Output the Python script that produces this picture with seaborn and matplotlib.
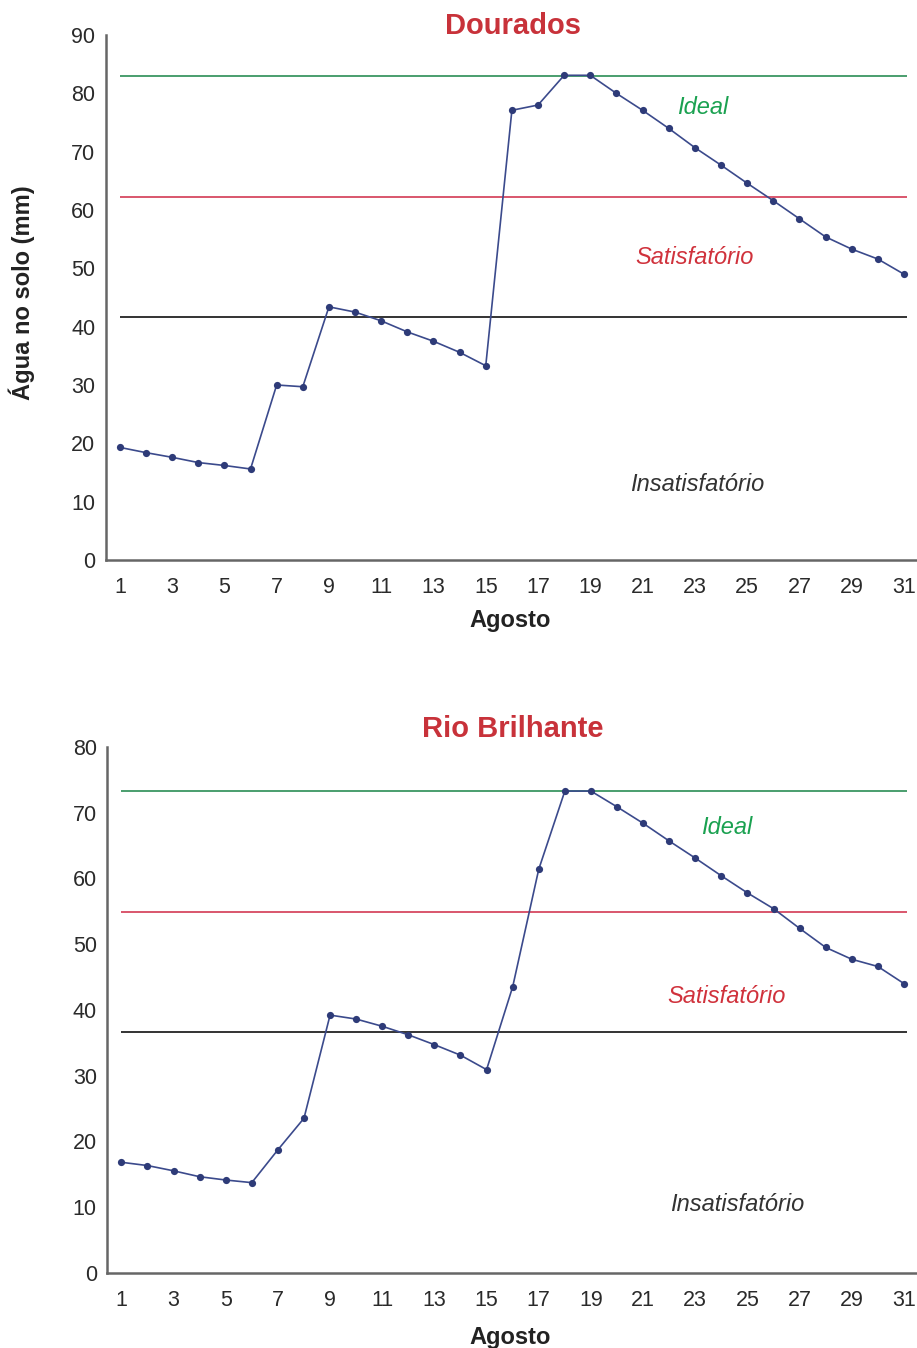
import matplotlib
matplotlib.use("Agg")
import matplotlib.pyplot as plt
import seaborn as sns
import pandas as pd
import numpy as np

# ---------------- data ----------------
days = list(range(1, 32))

dourados = [19.3, 18.4, 17.6, 16.7, 16.2, 15.6, 30.0, 29.7, 43.4, 42.5,
            41.0, 39.1, 37.5, 35.6, 33.3, 77.1, 78.0, 83.1, 83.1, 80.0,
            77.1, 74.0, 70.7, 67.7, 64.6, 61.6, 58.5, 55.4, 53.3, 51.6, 49.0]
dourados_levels = {"ideal": 83.0, "satisf": 62.3, "insat": 41.6}

rio = [16.8, 16.3, 15.5, 14.6, 14.1, 13.7, 18.7, 23.5, 39.2, 38.6,
       37.5, 36.2, 34.7, 33.1, 30.9, 43.5, 61.4, 73.3, 73.3, 70.9,
       68.4, 65.7, 63.1, 60.4, 57.8, 55.4, 52.4, 49.5, 47.7, 46.6, 44.0]
rio_levels = {"ideal": 73.3, "satisf": 54.9, "insat": 36.7}

titles = ["Dourados", "Rio Brilhante"]
xticks = list(range(1, 32, 2))
zone_labels = ["Ideal", "Satisfatório", "Insatisfatório"]

# ---------------- style ----------------
sns.set_theme(style="white")
plt.rcParams["font.family"] = ["Liberation Sans", "DejaVu Sans"]

LINE_C = "#3b4a8c"
GREEN = "#4a9e6e"
RED = "#d9566c"
BLACK = "#333333"
AXIS_C = "#666666"
TITLE_C = "#c8323a"

fig = plt.figure(figsize=(9.17, 13.48), dpi=100)
ax1 = fig.add_axes([0.1153, 0.5846, 0.8847, 0.3894])
ax2 = fig.add_axes([0.117, 0.0559, 0.883, 0.3899])

configs = [
    (ax1, dourados, dourados_levels, 90, range(0, 91, 10),
     [(23.3, 77.5), (23.0, 51.8), (23.1, 13.0)], -0.093, 26),
    (ax2, rio, rio_levels, 80, range(0, 81, 10),
     [(24.2, 67.7), (24.2, 42.1), (24.6, 10.4)], -0.101, 729),
]

for i, (ax, vals, lv, ymax, yt, txtpos, xlab_y, title_y) in enumerate(configs):
    df = pd.DataFrame({"dia": days, "agua": vals})
    ax.hlines(lv["ideal"], 1, 31.1, color=GREEN, lw=1.4, zorder=1)
    ax.hlines(lv["satisf"], 1, 31.1, color=RED, lw=1.4, zorder=1)
    ax.hlines(lv["insat"], 1, 31.1, color=BLACK, lw=1.4, zorder=1)
    sns.lineplot(data=df, x="dia", y="agua", ax=ax, color=LINE_C, lw=1.2,
                 marker="o", markersize=5.2, markeredgewidth=0,
                 markerfacecolor="#2e3b78", zorder=3)
    ax.set_xlim(0.46, 31.5)
    ax.set_ylim(0, ymax)
    ax.set_xticks(xticks)
    ax.set_yticks(list(yt))
    ax.tick_params(axis="both", direction="inout", length=7, width=1.2,
                   color=AXIS_C, labelsize=15.5, labelcolor="#2a2a2a")
    ax.tick_params(axis="x", pad=9)
    ax.tick_params(axis="y", pad=4)
    for s in ["top", "right"]:
        ax.spines[s].set_visible(False)
    for s in ["left", "bottom"]:
        ax.spines[s].set_color(AXIS_C)
        ax.spines[s].set_linewidth(1.8)
    ax.set_xlabel("Agosto", fontsize=17, fontweight="bold", color="#222222")
    ax.xaxis.set_label_coords(0.498, xlab_y)
    ax.set_ylabel("")
    ax.text(*txtpos[0], zone_labels[0], color="#1aa150", fontsize=17,
            style="italic", ha="center", va="center")
    ax.text(*txtpos[1], zone_labels[1], color="#d0323c", fontsize=17,
            style="italic", ha="center", va="center")
    ax.text(*txtpos[2], zone_labels[2], color="#333333", fontsize=17,
            style="italic", ha="center", va="center")
    fig.text(513 / 917, 1 - title_y / 1348, titles[i], color=TITLE_C,
             fontsize=21, fontweight="bold", ha="center", va="center")

fig.text(22 / 917, 1 - 293 / 1348, "Água no solo (mm)", rotation=90,
         fontsize=17, fontweight="bold", color="#222222",
         ha="center", va="center")

fig.savefig("out.png", dpi=100, facecolor="white")
